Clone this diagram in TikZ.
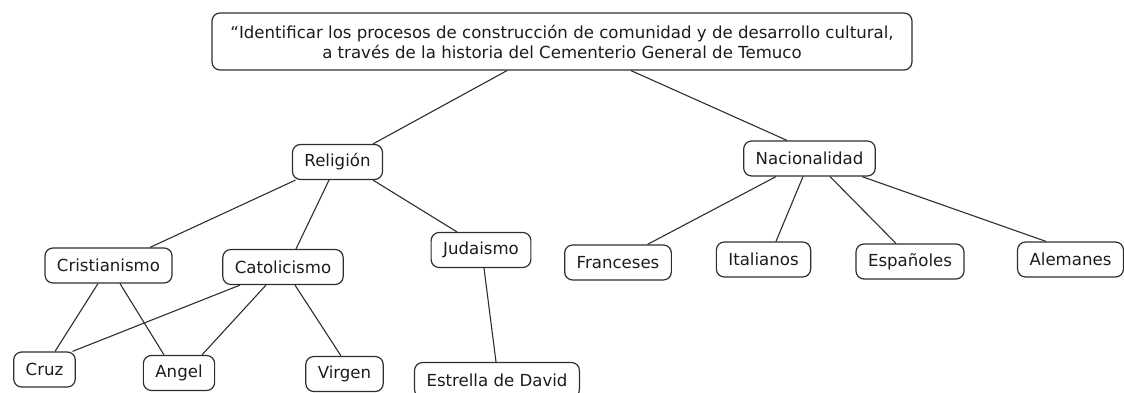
\documentclass[tikz,border=0pt]{standalone}
\usepackage{fontspec}
\setmainfont{DejaVu Sans}
\definecolor{linea}{HTML}{2E2E2E}
\definecolor{texto}{HTML}{1C1C1C}
\begin{document}
\begin{tikzpicture}[
        x=1pt, y=-1pt,
        font=\fontsize{16.6}{20}\selectfont,
        line width=1.2pt,
        % Stile per i concetti (rettangolo arrotondato)
        concepto/.style={
            draw=linea,
            text=texto,
            rounded corners=8pt,
            inner xsep=12pt,
            minimum height=35pt,
            align=center
        },
        enlace/.style={draw=linea, line width=1.1pt}
    ]

    \useasboundingbox (0,0) rectangle (1124,393);

    % ========================================================
    % 1. Obiettivo (in alto)
    % ========================================================
    \node[concepto, inner xsep=14pt, minimum width=700pt, minimum height=57pt]
        (objetivo) at (562, 41.5)
        {“Identificar los procesos de construcción de comunidad y de desarrollo cultural,\\
         a través de la historia del Cementerio General de Temuco};

    % ========================================================
    % 2. Secondo livello
    % ========================================================
    \node[concepto] (religion) at (337.5, 162) {Religión};
    \node[concepto] (nacion) at (809.5, 158.5) {Nacionalidad};

    \draw[enlace] ([xshift=-55pt]objetivo.south) -- ([xshift=35.5pt]religion.north);
    \draw[enlace] ([xshift=69pt]objetivo.south) -- ([xshift=-22.5pt]nacion.north);

    % ========================================================
    % 3. Religioni
    % ========================================================
    \node[concepto] (cristianismo) at (108.5, 265.5) {Cristianismo};
    \node[concepto] (catolicismo) at (283, 267) {Catolicismo};
    \node[concepto] (judaismo) at (481, 250) {Judaismo};

    \draw[enlace] ([xshift=-42pt]religion.south) -- ([xshift=41.5pt]cristianismo.north);
    \draw[enlace] ([xshift=-8.5pt]religion.south) -- ([xshift=13pt]catolicismo.north);
    \draw[enlace] ([xshift=35.5pt]religion.south) -- ([xshift=-24pt]judaismo.north);

    % ========================================================
    % 4. Simboli
    % ========================================================
    \node[concepto] (cruz) at (44.5, 369.5) {Cruz};
    \node[concepto] (angel) at (179, 373) {Angel};
    \node[concepto] (virgen) at (344.5, 374) {Virgen};
    \node[concepto] (estrella) at (497, 380) {Estrella de David};

    \draw[enlace] ([xshift=-10.5pt]cristianismo.south) -- ([xshift=10.5pt]cruz.north);
    \draw[enlace] ([xshift=11.5pt]cristianismo.south) -- ([xshift=-15pt]angel.north);
    \draw[enlace] ([xshift=-43pt]catolicismo.south) -- ([xshift=28pt]cruz.north);
    \draw[enlace] ([xshift=-17pt]catolicismo.south) -- ([xshift=23pt]angel.north);
    \draw[enlace] ([xshift=12pt]catolicismo.south) -- ([xshift=-3.5pt]virgen.north);
    \draw[enlace] ([xshift=3pt]judaismo.south) -- ([xshift=-1pt]estrella.north);

    % ========================================================
    % 5. Nazionalita
    % ========================================================
    \node[concepto] (franceses) at (618, 262.5) {Franceses};
    \node[concepto] (italianos) at (763.5, 259.5) {Italianos};
    \node[concepto] (espanoles) at (910, 261.5) {Españoles};
    \node[concepto] (alemanes) at (1070.5, 259.5) {Alemanes};

    \draw[enlace] ([xshift=-33.5pt]nacion.south) -- ([xshift=29.5pt]franceses.north);
    \draw[enlace] ([xshift=-6.5pt]nacion.south) -- ([xshift=12.5pt]italianos.north);
    \draw[enlace] ([xshift=20.5pt]nacion.south) -- ([xshift=-14pt]espanoles.north);
    \draw[enlace] ([xshift=52.5pt]nacion.south) -- ([xshift=-24.5pt]alemanes.north);

\end{tikzpicture}
\end{document}
